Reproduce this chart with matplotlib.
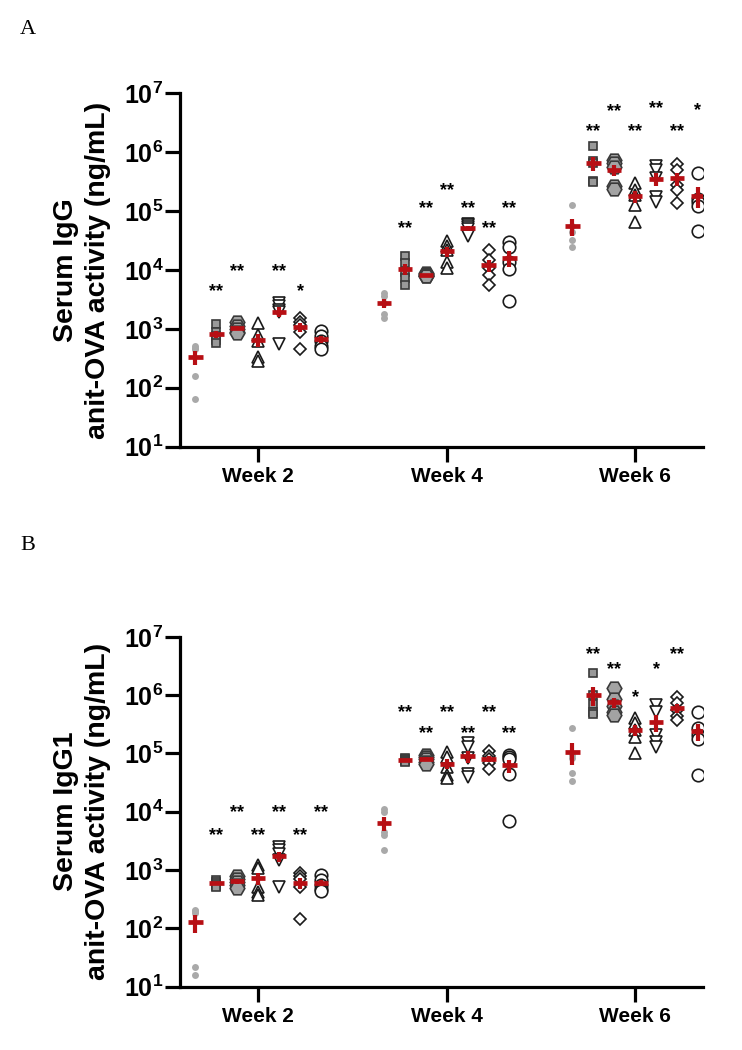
import numpy as np
import matplotlib
matplotlib.use('Agg')
import matplotlib.pyplot as plt
from matplotlib.ticker import FixedLocator, FuncFormatter, NullLocator

plt.rcParams['font.family'] = ['Liberation Sans', 'DejaVu Sans']
plt.rcParams['mathtext.fontset'] = 'custom'
plt.rcParams['mathtext.rm'] = 'Liberation Sans'
plt.rcParams['mathtext.bf'] = 'Liberation Sans:bold'

weeks = ['Week 2', 'Week 4', 'Week 6']

# serum IgG (ng/mL), 7 groups per week, 5 animals per group
igg_w2 = [[510, 480, 450, 160, 65],
          [1200, 900, 750, 650, 580],
          [1300, 1100, 1000, 900, 850],
          [1250, 800, 620, 330, 290],
          [2800, 2400, 2100, 1900, 560],
          [1500, 1320, 1170, 870, 460],
          [930, 770, 630, 520, 460]]
igg_w4 = [[4000, 3600, 2800, 1800, 1500],
          [17000, 13000, 9100, 7300, 5500],
          [9000, 8700, 8300, 8000, 7800],
          [31600, 26000, 21500, 13500, 10700],
          [60000, 57000, 54000, 50000, 38000],
          [22000, 14500, 10700, 8200, 5500],
          [29500, 24300, 13600, 10500, 3000]]
igg_w6 = [[125000, 55000, 44000, 32000, 25000],
          [1260000, 720000, 650000, 330000, 310000],
          [750000, 650000, 550000, 270000, 240000],
          [295000, 225000, 185000, 125000, 65000],
          [580000, 500000, 360000, 170000, 140000],
          [640000, 500000, 280000, 230000, 135000],
          [450000, 160000, 140000, 120000, 45000]]

# serum IgG1 (ng/mL)
igg1_w2 = [[210, 200, 185, 22, 16],
           [680, 620, 580, 540, 520],
           [800, 700, 620, 560, 500],
           [1220, 1080, 515, 425, 375],
           [2500, 2200, 1900, 1500, 520],
           [900, 780, 700, 520, 145],
           [820, 680, 560, 480, 430]]
igg1_w4 = [[11000, 10000, 4500, 4000, 2200],
           [84000, 80000, 78000, 75000, 72000],
           [95000, 88000, 80000, 72000, 66000],
           [105000, 87000, 59000, 43000, 37500],
           [148000, 130000, 82000, 45000, 40000],
           [110000, 92000, 80000, 68000, 55000],
           [93000, 87000, 80000, 45000, 6800]]
igg1_w6 = [[270000, 95000, 83000, 46000, 33000],
           [2400000, 1000000, 700000, 520000, 480000],
           [1300000, 850000, 650000, 520000, 450000],
           [400000, 330000, 250000, 190000, 100000],
           [680000, 520000, 210000, 160000, 130000],
           [930000, 720000, 560000, 430000, 370000],
           [520000, 270000, 210000, 180000, 43000]]

# significance marks vs control and the height they are printed at
igg_sig = [['', '**', '**', '', '**', '*', ''],
           ['', '**', '**', '**', '**', '**', '**'],
           ['', '**', '**', '**', '**', '**', '*']]
igg_sig_y = [[0, 5400, 11700, 0, 11700, 5400, 0],
             [0, 6.3e4, 1.38e5, 2.76e5, 1.38e5, 6.3e4, 1.38e5],
             [0, 2.8e6, 6.1e6, 2.8e6, 6.8e6, 2.8e6, 6.3e6]]
igg1_sig = [['', '**', '**', '**', '**', '**', '**'],
            ['', '**', '**', '**', '**', '**', '**'],
            ['', '**', '**', '*', '*', '**', '']]
igg1_sig_y = [[0, 5000, 12200, 5000, 12200, 5000, 12200],
              [0, 6.3e5, 2.8e5, 6.3e5, 2.8e5, 6.3e5, 2.8e5],
              [0, 6.3e6, 3.4e6, 1.14e6, 3.4e6, 6.3e6, 0]]

# marker style per group: (marker, size pt, face, edge)
styles = [('o', 5.0, '#a9a9a9', 'none'),
          ('s', 6.4, '#999999', '#3a3a3a'),
          ('H', 10.5, '#a3a3a3', '#3a3a3a'),
          ('^', 9.0, 'white', '#1a1a1a'),
          ('v', 9.0, 'white', '#1a1a1a'),
          ('D', 6.0, 'white', '#1a1a1a'),
          ('o', 9.0, 'white', '#1a1a1a')]

RED = '#b70f14'
offsets = (np.arange(7) - 3) * 0.111


def draw_panel(ax, data, sig, sig_y, ylabel):
    for w, week_data in enumerate(data):
        for g, vals in enumerate(week_data):
            x = w + offsets[g]
            mk, ms, fc, ec = styles[g]
            ax.plot(np.full(len(vals), x), vals, linestyle='none', marker=mk,
                    markersize=ms, markerfacecolor=fc, markeredgecolor=ec,
                    markeredgewidth=1.2, zorder=3)
            vals = np.asarray(vals, dtype=float)
            m = vals.mean()
            sem = vals.std(ddof=1) / np.sqrt(len(vals))
            ax.vlines(x, m - sem, m + sem, color=RED, lw=3.0, zorder=5)
            ax.hlines(m, x - 0.038, x + 0.038, color=RED, lw=3.4, zorder=5)
            if sig[w][g]:
                ax.annotate(sig[w][g], (x, sig_y[w][g]), xytext=(0, -7.5),
                            textcoords='offset points', ha='center',
                            va='baseline', fontsize=13, fontweight='bold')

    ax.set_yscale('log')
    ax.set_ylim(10, 1e7)
    ax.set_xlim(-0.415, 2.36)
    ax.yaxis.set_major_locator(FixedLocator([10.0 ** k for k in range(1, 8)]))
    ax.yaxis.set_minor_locator(NullLocator())
    ax.yaxis.set_major_formatter(
        FuncFormatter(lambda v, p: r'$\mathbf{10^{%d}}$' % round(np.log10(v))))
    ax.set_xticks(range(len(weeks)))
    ax.set_xticklabels(weeks, fontsize=15, fontweight='bold')
    for s in ['top', 'right']:
        ax.spines[s].set_visible(False)
    for s in ['left', 'bottom']:
        ax.spines[s].set_linewidth(2.3)
    ax.tick_params(axis='both', length=10.5, width=2.3, color='black')
    ax.tick_params(axis='y', labelsize=18, pad=1.5)
    ax.tick_params(axis='x', pad=4)
    ax.set_ylabel(ylabel, fontsize=20.5, fontweight='bold', linespacing=1.32)
    ax.yaxis.set_label_coords(-0.132, 0.5)


fig = plt.figure(figsize=(7.42, 10.5), dpi=100)
ax_a = fig.add_axes([0.2426, 0.5746, 0.7049, 0.3366])
ax_b = fig.add_axes([0.2426, 0.0604, 0.7049, 0.3331])

draw_panel(ax_a, [igg_w2, igg_w4, igg_w6], igg_sig, igg_sig_y,
           'Serum IgG\nanit-OVA activity (ng/mL)')
draw_panel(ax_b, [igg1_w2, igg1_w4, igg1_w6], igg1_sig, igg1_sig_y,
           'Serum IgG1\nanit-OVA activity (ng/mL)')

fig.text(20 / 742, 1 - 30 / 1050, 'A', family='Liberation Serif',
         fontsize=16, va='center', ha='left')
fig.text(20 / 742, 1 - 545 / 1050, 'B', family='Liberation Serif',
         fontsize=16, va='center', ha='left')

fig.savefig('out.png', dpi=100)
